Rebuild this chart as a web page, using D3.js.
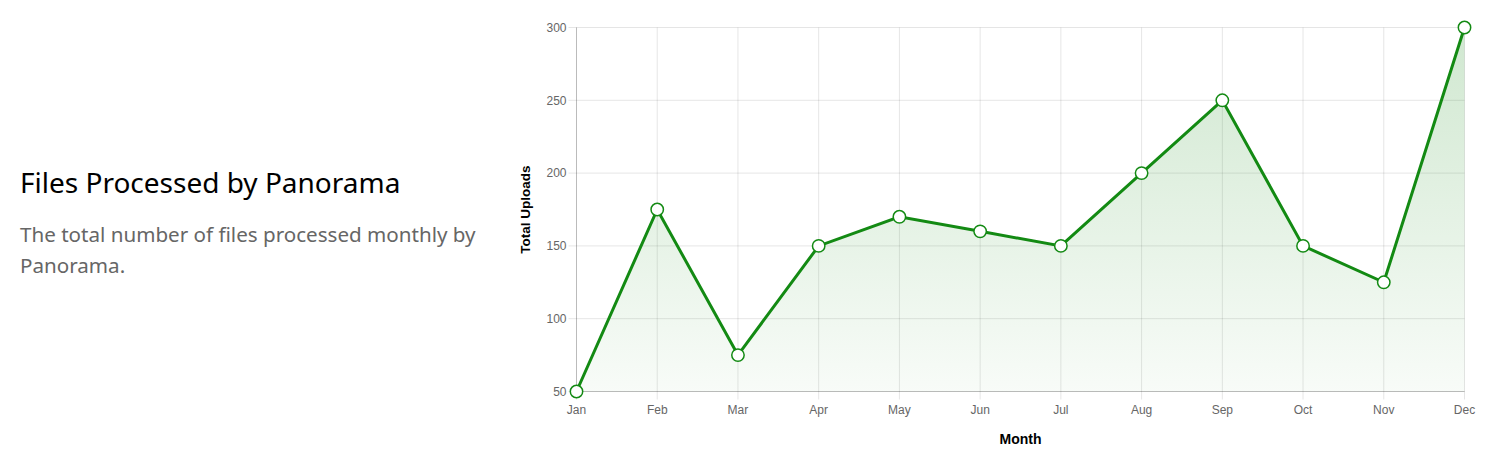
<!DOCTYPE html>
<html>
<head>
<meta charset="utf-8">
<script src="https://cdn.jsdelivr.net/npm/d3@7"></script>
<style>
body { margin: 0; background: #fff; }
#info { position: absolute; left: 20px; top: 163px; width: 475px; font-family: "Noto Sans", "Open Sans", sans-serif; }
#info h2 { margin: 0; font-weight: 400; font-size: 28px; color: #000; line-height: 38px; }
#info p { margin: 18px 0 0 0; font-size: 20.6px; color: #666; line-height: 31px; }
svg { position: absolute; left: 0; top: 0; }
</style>
</head>
<body>
<div id="info">
  <h2>Files Processed by Panorama</h2>
  <p>The total number of files processed monthly by Panorama.</p>
</div>
<script>
var months = ["Jan", "Feb", "Mar", "Apr", "May", "Jun", "Jul", "Aug", "Sep", "Oct", "Nov", "Dec"],
    uploads = [50, 175, 75, 150, 170, 160, 150, 200, 250, 150, 125, 300],
    yTicks = [50, 100, 150, 200, 250, 300];

var width = 1498,
    height = 469,
    plotLeft = 576.5,
    plotRight = 1464.5,
    plotTop = 27.5,
    plotBottom = 391.5,
    green = "#138a13";

var svg = d3.select("body").append("svg")
    .attr("width", width)
    .attr("height", height);

var x = d3.scalePoint().domain(months).range([plotLeft, plotRight]);
var y = d3.scaleLinear().domain([50, 300]).range([plotBottom, plotTop]);

var grad = svg.append("defs").append("linearGradient")
    .attr("id", "fillGrad")
    .attr("gradientUnits", "userSpaceOnUse")
    .attr("x1", 0).attr("y1", plotTop).attr("x2", 0).attr("y2", plotBottom);
grad.append("stop").attr("offset", 0).attr("stop-color", green).attr("stop-opacity", 0.2);
grad.append("stop").attr("offset", 1).attr("stop-color", green).attr("stop-opacity", 0.03);

// grid
svg.append("g").selectAll("line")
    .data(yTicks)
    .enter().append("line")
    .attr("x1", plotLeft - 8).attr("x2", plotRight)
    .attr("y1", function(d) { return y(d); })
    .attr("y2", function(d) { return y(d); })
    .attr("stroke", "rgba(0,0,0,0.1)");

svg.append("g").selectAll("line")
    .data(months)
    .enter().append("line")
    .attr("x1", function(d) { return x(d); })
    .attr("x2", function(d) { return x(d); })
    .attr("y1", plotTop).attr("y2", plotBottom + 8)
    .attr("stroke", "rgba(0,0,0,0.1)");

// axis lines
svg.append("line")
    .attr("x1", plotLeft).attr("x2", plotLeft).attr("y1", plotTop).attr("y2", plotBottom)
    .attr("stroke", "rgba(0,0,0,0.18)");
svg.append("line")
    .attr("x1", plotLeft).attr("x2", plotRight).attr("y1", plotBottom).attr("y2", plotBottom)
    .attr("stroke", "rgba(0,0,0,0.18)");

// tick labels
svg.append("g").selectAll("text")
    .data(yTicks)
    .enter().append("text")
    .attr("x", plotLeft - 10)
    .attr("y", function(d) { return y(d); })
    .attr("dy", "0.35em")
    .attr("text-anchor", "end")
    .attr("font-family", "Liberation Sans, Arial, sans-serif")
    .attr("font-size", 12)
    .attr("fill", "#666")
    .text(function(d) { return d; });

svg.append("g").selectAll("text")
    .data(months)
    .enter().append("text")
    .attr("x", function(d) { return x(d); })
    .attr("y", plotBottom + 22)
    .attr("text-anchor", "middle")
    .attr("font-family", "Liberation Sans, Arial, sans-serif")
    .attr("font-size", 12)
    .attr("fill", "#666")
    .text(function(d) { return d; });

// axis titles
svg.append("text")
    .attr("x", (plotLeft + plotRight) / 2)
    .attr("y", 444)
    .attr("text-anchor", "middle")
    .attr("font-family", "Liberation Sans, Arial, sans-serif")
    .attr("font-size", 14)
    .attr("font-weight", "bold")
    .attr("fill", "#000")
    .text("Month");

svg.append("text")
    .attr("transform", "translate(530," + (plotTop + plotBottom) / 2 + ") rotate(-90)")
    .attr("text-anchor", "middle")
    .attr("font-family", "Liberation Sans, Arial, sans-serif")
    .attr("font-size", 13.5)
    .attr("font-weight", "bold")
    .attr("fill", "#000")
    .text("Total Uploads");

// area + line
var area = d3.area()
    .x(function(d, i) { return x(months[i]); })
    .y0(plotBottom)
    .y1(function(d) { return y(d); });

var line = d3.line()
    .x(function(d, i) { return x(months[i]); })
    .y(function(d) { return y(d); });

svg.append("path")
    .attr("d", area(uploads))
    .attr("fill", "url(#fillGrad)");

svg.append("path")
    .attr("d", line(uploads))
    .attr("fill", "none")
    .attr("stroke", green)
    .attr("stroke-width", 3);

svg.append("g").selectAll("circle")
    .data(uploads)
    .enter().append("circle")
    .attr("cx", function(d, i) { return x(months[i]); })
    .attr("cy", function(d) { return y(d); })
    .attr("r", 6.2)
    .attr("fill", "#fff")
    .attr("stroke", green)
    .attr("stroke-width", 1.5);
</script>
</body>
</html>
